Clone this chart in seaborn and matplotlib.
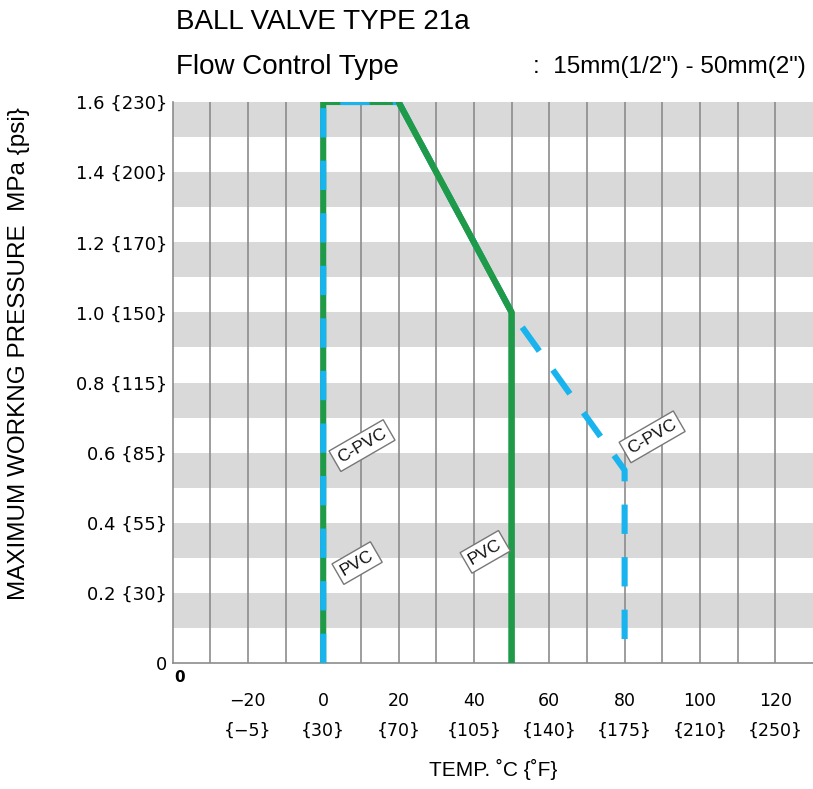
import numpy as np
import pandas as pd
import matplotlib
matplotlib.use("Agg")
import matplotlib.pyplot as plt
import seaborn as sns

# --- data ---
pvc_temp = [0, 0, 20, 50, 50]
pvc_press = [0.0, 1.6, 1.6, 1.0, 0.0]
cpvc_temp = [0, 0, 20, 50, 80, 80]
cpvc_press = [0.0, 1.6, 1.6, 1.0, 0.55, 0.03]

x_ticks = [-20, 0, 20, 40, 60, 80, 100, 120]
x_ticks_f = ["-5", "30", "70", "105", "140", "175", "210", "250"]
y_ticks = [0.2, 0.4, 0.6, 0.8, 1.0, 1.2, 1.4, 1.6]
y_ticks_psi = ["30", "55", "85", "115", "150", "170", "200", "230"]
band_starts = [0.1, 0.3, 0.5, 0.7, 0.9, 1.1, 1.3, 1.5]
grid_x = list(range(-30, 130, 10))

# label boxes: text, temp, pressure
labels = [("C-PVC", 10.3, 0.62), ("PVC", 9.0, 0.285),
          ("PVC", 43.0, 0.317), ("C-PVC", 87.3, 0.645)]

green = "#1f9a48"
blue = "#19b4ee"

sns.set_style("white")
plt.rcParams["font.family"] = ["Liberation Sans", "DejaVu Sans"]
plt.rcParams["text.color"] = "black"
plt.rcParams["axes.labelcolor"] = "black"
plt.rcParams["xtick.color"] = "black"
plt.rcParams["ytick.color"] = "black"

fig = plt.figure(figsize=(8.13, 7.89), dpi=100)
ax = fig.add_axes([172.5 / 813, 1 - 663 / 789, 1 - 172.5 / 813, (663 - 102) / 789])

for b in band_starts:
    ax.axhspan(b, b + 0.1, color="#d9d9d9", lw=0, zorder=0)
for gx in grid_x:
    ax.axvline(gx, color="#8c8c8c", lw=1.2, zorder=1)

pvc = pd.DataFrame({"temp": pvc_temp, "press": pvc_press})
cpvc = pd.DataFrame({"temp": cpvc_temp, "press": cpvc_press})

# PVC under the dashed C-PVC line ...
sns.lineplot(data=pvc, x="temp", y="press", sort=False, estimator=None,
             color=green, lw=4.4, ax=ax, zorder=3)
sns.lineplot(data=cpvc, x="temp", y="press", sort=False, estimator=None,
             color=blue, lw=4.4, ax=ax, zorder=4)
ax.lines[-1].set_dashes((4.8, 3.8))
ax.lines[-1].set_dash_capstyle("butt")
# ... except the sloped part and the 50 degC drop, where green sits on top
sns.lineplot(data=pvc.iloc[2:], x="temp", y="press", sort=False, estimator=None,
             color=green, lw=4.4, ax=ax, zorder=5)

for txt, tx, ty in labels:
    ax.text(tx, ty, txt, rotation=30, ha="center", va="center", fontsize=12.5,
            color="#111111", zorder=6,
            bbox=dict(boxstyle="square,pad=0.25", fc="white", ec="#777777", lw=1))

ax.set_xlim(-40, 130)
ax.set_ylim(0, 1.6)

ax.set_xticks(x_ticks)
ax.set_xticklabels([f"{c}\n{{{f}}}".replace("-", "\u2212")
                    for c, f in zip(x_ticks, x_ticks_f)],
                   fontsize=12.5, linespacing=1.8, family="DejaVu Sans")
ax.set_yticks([0] + y_ticks)
ax.set_yticklabels(["0"] + [f"{p} {{{q}}}" for p, q in zip(y_ticks, y_ticks_psi)],
                   fontsize=13, family="DejaVu Sans")
ax.tick_params(axis="x", length=0, pad=21)
ax.tick_params(axis="y", length=0, pad=4)

for s in ["top", "right"]:
    ax.spines[s].set_visible(False)
for s in ["left", "bottom"]:
    ax.spines[s].set_color("#8c8c8c")
    ax.spines[s].set_linewidth(1.2)

ax.text(-38, -0.04, "0", fontsize=11, fontweight="bold", ha="center", va="center",
        clip_on=False, family="DejaVu Sans")

ax.set_xlabel("TEMP. \u02daC {\u02daF}", fontsize=15, labelpad=14)
ax.set_ylabel("MAXIMUM WORKNG PRESSURE  MPa {psi}", fontsize=17.5)
ax.yaxis.set_label_coords(-0.222, 0.552)

fig.text(176 / 813, 1 - 22 / 789, "BALL VALVE TYPE 21a", fontsize=20, va="center")
fig.text(176 / 813, 1 - 67 / 789, "Flow Control Type", fontsize=20, va="center")
fig.text(533 / 813, 1 - 67 / 789, ":  15mm(1/2\") - 50mm(2\")", fontsize=17.5, va="center")

fig.savefig("out.png", dpi=100)
